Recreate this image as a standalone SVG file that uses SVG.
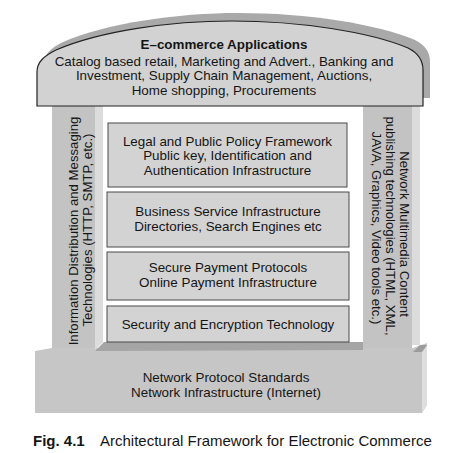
<svg xmlns="http://www.w3.org/2000/svg" width="474" height="453" viewBox="0 0 474 453">
<style>
text{font-family:"Liberation Sans",Arial,sans-serif;fill:#151515;font-size:13.4px;text-anchor:middle}
.b{font-weight:bold}
.a{font-size:13.4px}
.p{font-size:13.2px}
.box{fill:#d3d3d3;stroke:#4a4a4a;stroke-width:1}
.dark{fill:#c3c3c3}
.light{fill:#dcdcdc}
</style>
<defs>
<path id="archShape" d="M37,106 V72 C37,62 44,56 56,50 C100,31 170,21 232,21 C300,21 370,32 408,48 C418,53 423,60 423,70 V106 Z"/>
</defs>
<rect width="474" height="453" fill="#fff"/>
<g id="base">
<path d="M35,351 L52,348 L413,348 L427,343 L427,405 L422,413 L35,413 Z" fill="#c6c6c6"/>
<path d="M422,352 L427,345 L427,405 L422,413 Z" fill="#dedede"/>
<path d="M413,352 L420,345 L427,345 L422,352 Z" fill="#9c9c9c"/>
<path d="M95,351 L104,342 L363,342 L363,350 Z" fill="#a5a5a5"/>
<text x="226" y="381.5">Network Protocol Standards</text>
<text x="226" y="396.5">Network Infrastructure (Internet)</text>
</g>
<g id="leftPillar">
<rect x="52" y="100" width="43" height="248" class="dark"/>
<path d="M95,100 H103 V342 L95,350 Z" class="light"/>
<text class="p" transform="translate(78,231) rotate(-90)">Information Distribution and Messaging</text>
<text class="p" transform="translate(92,230) rotate(-90)">Technologies (HTTP, SMTP, etc.)</text>
</g>
<g id="rightPillar">
<rect x="363" y="100" width="49" height="248" class="dark"/>
<rect x="412" y="100" width="8" height="245" class="light"/>
<text class="p" transform="translate(400,234) rotate(90)">Network Multimedia Content</text>
<text class="p" transform="translate(386,226) rotate(90)">publishing technologies (HTML, XML,</text>
<text class="p" transform="translate(372,228) rotate(90)">JAVA, Graphics, Video tools etc.)</text>
</g>
<g id="arch">
<use href="#archShape" transform="translate(7,-8)" fill="#a9a9a9"/>
<use href="#archShape" fill="#d2d2d2" stroke="#222" stroke-width="1.2"/>
<text class="b a" x="224" y="49">E–commerce Applications</text>
<text class="a" x="224" y="65.5">Catalog based retail, Marketing and Advert., Banking and</text>
<text class="a" x="224" y="80">Investment, Supply Chain Management, Auctions,</text>
<text class="a" x="224" y="94.5">Home shopping, Procurements</text>
</g>
<g id="legal">
<rect x="108" y="123" width="239" height="64" class="box"/>
<text x="227.5" y="146">Legal and Public Policy Framework</text>
<text x="227.5" y="160">Public key, Identification and</text>
<text x="227.5" y="175">Authentication Infrastructure</text>
</g>
<g id="business">
<rect x="107" y="192" width="242" height="55" class="box"/>
<text x="228" y="215.5">Business Service Infrastructure</text>
<text x="228" y="231">Directories, Search Engines etc</text>
</g>
<g id="payment">
<rect x="107" y="252" width="242" height="48" class="box"/>
<text x="228" y="271.5">Secure Payment Protocols</text>
<text x="228" y="286.5">Online Payment Infrastructure</text>
</g>
<g id="security">
<rect x="107" y="306" width="242" height="36" class="box"/>
<text x="228" y="328.5">Security and Encryption Technology</text>
</g>
<g id="connectors"></g>
<g id="caption">
<text x="33" y="446" style="text-anchor:start;font-size:15px"><tspan class="b">Fig. 4.1</tspan><tspan x="100">Architectural Framework for Electronic Commerce</tspan></text>
</g>
</svg>
